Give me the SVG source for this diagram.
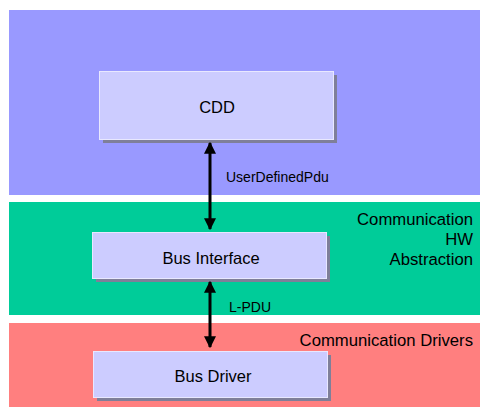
<svg xmlns="http://www.w3.org/2000/svg" width="480" height="407" viewBox="0 0 480 407">
<style>
.band{stroke:none}
.shadow{fill:#7F7F99}
.box{fill:#CCCCFF;stroke:#E8E8FF;stroke-width:1}
.t{font-family:"Liberation Sans",Arial,sans-serif;fill:#000}
.nt{font-size:16.5px;text-anchor:middle}
.lt{font-size:16.7px;text-anchor:end}
.el{font-size:14px}
.conn{stroke:#000;stroke-width:3;fill:none;marker-start:url(#ah);marker-end:url(#ah)}
</style>
<defs>
<marker id="ah" viewBox="0 0 10 10" refX="9" refY="5" markerWidth="4" markerHeight="4.5" orient="auto-start-reverse" markerUnits="strokeWidth">
<path d="M0,0 L10,5 L0,10 z" fill="#000"/>
</marker>
</defs>
<rect width="480" height="407" fill="#fff"/>
<g id="layer-top">
<rect class="band" x="9" y="10" width="471" height="185" fill="#9999FF"/>
</g>
<g id="layer-hw">
<rect class="band" x="9" y="202" width="471" height="113" fill="#00CC99"/>
<text class="t lt" x="473" y="225">Communication</text>
<text class="t lt" x="473" y="245">HW</text>
<text class="t lt" x="473" y="265">Abstraction</text>
</g>
<g id="layer-drivers">
<rect class="band" x="9" y="323" width="471" height="84" fill="#FF7F7F"/>
<text class="t lt" x="473" y="346">Communication Drivers</text>
</g>
<g id="cdd">
<rect class="shadow" x="103" y="75" width="234" height="68"/>
<rect class="box" x="99.5" y="71.5" width="234" height="68"/>
<text class="t nt" x="217" y="113">CDD</text>
</g>
<g id="bus-interface">
<rect class="shadow" x="96" y="236" width="234" height="46"/>
<rect class="box" x="92.5" y="232.5" width="234" height="46"/>
<text class="t nt" x="211" y="264">Bus Interface</text>
</g>
<g id="bus-driver">
<rect class="shadow" x="97" y="355" width="234" height="46"/>
<rect class="box" x="93.5" y="351.5" width="234" height="46"/>
<text class="t nt" x="213" y="382">Bus Driver</text>
</g>
<g id="connectors">
<line class="conn" x1="210" y1="143" x2="210" y2="229"/>
<text class="t el" x="226" y="182">UserDefinedPdu</text>
<line class="conn" x1="210" y1="282" x2="210" y2="347"/>
<text class="t el" x="229" y="312">L-PDU</text>
</g>
</svg>
